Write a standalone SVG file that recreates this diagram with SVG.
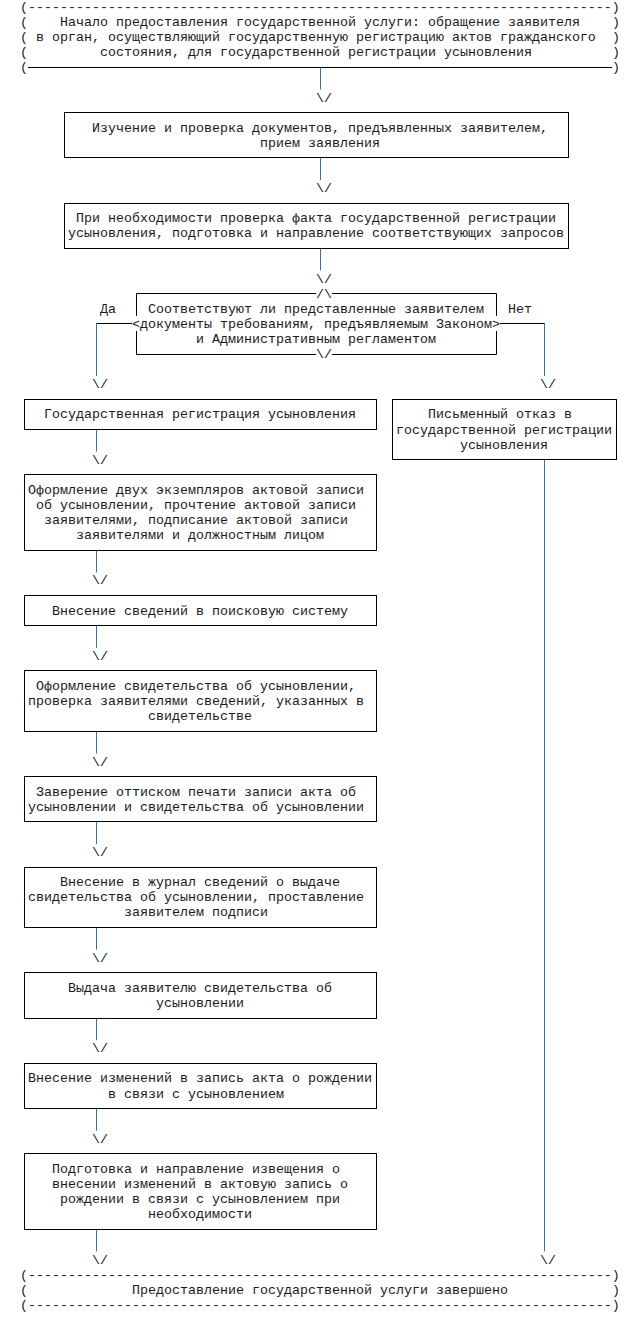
<svg xmlns="http://www.w3.org/2000/svg" width="638" height="1318" viewBox="0 0 638 1318">
<style>
text{font-family:"Liberation Mono","Courier New",monospace;font-size:13.33px;fill:#1a1a1a;white-space:pre}
.box{fill:none;stroke:#000;stroke-width:1}
.ln{fill:none;stroke:#000;stroke-width:1}
.cn{fill:none;stroke:#3a6ea5;stroke-width:1}
</style>
<rect width="638" height="1318" fill="#fff"/>
<g id="start">
<text x="20" y="11">(-------------------------------------------------------------------------)</text>
<text x="20" y="26.1">(</text><text x="60" y="26.1">Начало предоставления государственной услуги: обращение заявителя</text><text x="612" y="26.1">)</text>
<text x="20" y="41.2">(</text><text x="36" y="41.2">в орган, осуществляющий государственную регистрацию актов гражданского</text><text x="612" y="41.2">)</text>
<text x="20" y="56.3">(</text><text x="100" y="56.3">состояния, для государственной регистрации усыновления</text><text x="612" y="56.3">)</text>
<text x="20" y="71.4">(</text><text x="612" y="71.4">)</text>
<path class="ln" d="M28,67.5H612"/>
</g>
<g id="connectors">
<path class="cn" d="M320.5,67.5V89.5M320.5,157.5V180M320.5,248.5V270.5M96.5,323.5V376M544.5,323.5V376M96.5,429.5V451.5M96.5,550.5V572.4M96.5,625.5V647.8M96.5,731.5V753.5M96.5,821.5V844M96.5,927.5V949.6M96.5,1018.5V1040.2M96.5,1108.5V1130.7M96.5,1229.5V1251.4M544.5,459.5V1251.4"/>
<path class="ln" d="M132,323.5H96.5M500,323.5H544.5"/>
<text x="316" y="101.5">\/</text>
<text x="316" y="192.1">\/</text>
<text x="316" y="282.6">\/</text>
<text x="92" y="388.3">\/</text>
<text x="540" y="388.3">\/</text>
<text x="92" y="463.7">\/</text>
<text x="92" y="584.4">\/</text>
<text x="92" y="659.9">\/</text>
<text x="92" y="765.5">\/</text>
<text x="92" y="856">\/</text>
<text x="92" y="961.7">\/</text>
<text x="92" y="1052.2">\/</text>
<text x="92" y="1142.8">\/</text>
<text x="92" y="1263.5">\/</text>
<text x="540" y="1263.5">\/</text>
<text x="100" y="312.8">Да</text>
<text x="508" y="312.8">Нет</text>
</g>
<g id="n1">
<rect class="box" x="64.5" y="112.5" width="504" height="45"/>
<text x="92" y="131.7">Изучение и проверка документов, предъявленных заявителем,</text>
<text x="260" y="146.8">прием заявления</text>
</g>
<g id="n2">
<rect class="box" x="64.5" y="203.5" width="504" height="45"/>
<text x="76" y="222.3">При необходимости проверка факта государственной регистрации</text>
<text x="68" y="237.4">усыновления, подготовка и направление соответствующих запросов</text>
</g>
<g id="decision">
<path class="box" d="M136.5,293.5H316M332,293.5H496.5M136.5,354.5H316M332,354.5H496.5M136.5,293.5V315.8M136.5,331V354.5M496.5,293.5V315.8M496.5,331V354.5"/>
<text x="316" y="297.7">/\</text>
<text x="148" y="312.8">Соответствуют ли представленные заявителем</text>
<text x="132" y="327.9">&lt;документы требованиям, предъявляемым Законом&gt;</text>
<text x="196" y="343">и Административным регламентом</text>
<text x="316" y="358.1">\/</text>
</g>
<g id="n3">
<rect class="box" x="24.5" y="399.5" width="352" height="30"/>
<text x="44" y="418.4">Государственная регистрация усыновления</text>
</g>
<g id="n_refuse">
<rect class="box" x="392.5" y="399.5" width="224" height="60"/>
<text x="428" y="418.4">Письменный отказ в</text>
<text x="396" y="433.5">государственной регистрации</text>
<text x="460" y="448.6">усыновления</text>
</g>
<g id="n4">
<rect class="box" x="24.5" y="474.5" width="352" height="76"/>
<text x="28" y="493.9">Оформление двух экземпляров актовой записи</text>
<text x="36" y="509">об усыновлении, прочтение актовой записи</text>
<text x="44" y="524.1">заявителями, подписание актовой записи</text>
<text x="76" y="539.2">заявителями и должностным лицом</text>
</g>
<g id="n5">
<rect class="box" x="24.5" y="595.5" width="352" height="30"/>
<text x="52" y="614.6">Внесение сведений в поисковую систему</text>
</g>
<g id="n6">
<rect class="box" x="24.5" y="670.5" width="352" height="61"/>
<text x="36" y="690.1">Оформление свидетельства об усыновлении,</text>
<text x="28" y="705.1">проверка заявителями сведений, указанных в</text>
<text x="148" y="720.2">свидетельстве</text>
</g>
<g id="n7">
<rect class="box" x="24.5" y="776.5" width="352" height="45"/>
<text x="36" y="795.7">Заверение оттиском печати записи акта об</text>
<text x="28" y="810.8">усыновлении и свидетельства об усыновлении</text>
</g>
<g id="n8">
<rect class="box" x="24.5" y="867.5" width="352" height="60"/>
<text x="60" y="886.2">Внесение в журнал сведений о выдаче</text>
<text x="28" y="901.3">свидетельства об усыновлении, проставление</text>
<text x="124" y="916.4">заявителем подписи</text>
</g>
<g id="n9">
<rect class="box" x="24.5" y="972.5" width="352" height="46"/>
<text x="68" y="991.9">Выдача заявителю свидетельства об</text>
<text x="156" y="1006.9">усыновлении</text>
</g>
<g id="n10">
<rect class="box" x="24.5" y="1063.5" width="352" height="45"/>
<text x="28" y="1082.4">Внесение изменений в запись акта о рождении</text>
<text x="108" y="1097.5">в связи с усыновлением</text>
</g>
<g id="n11">
<rect class="box" x="24.5" y="1153.5" width="352" height="76"/>
<text x="52" y="1172.9">Подготовка и направление извещения о</text>
<text x="52" y="1188">внесении изменений в актовую запись о</text>
<text x="60" y="1203.1">рождении в связи с усыновлением при</text>
<text x="148" y="1218.2">необходимости</text>
</g>
<g id="end">
<text x="20" y="1278.6">(-------------------------------------------------------------------------)</text>
<text x="20" y="1293.7">(</text><text x="132" y="1293.7">Предоставление государственной услуги завершено</text><text x="612" y="1293.7">)</text>
<text x="20" y="1308.7">(-------------------------------------------------------------------------)</text>
</g>
</svg>
